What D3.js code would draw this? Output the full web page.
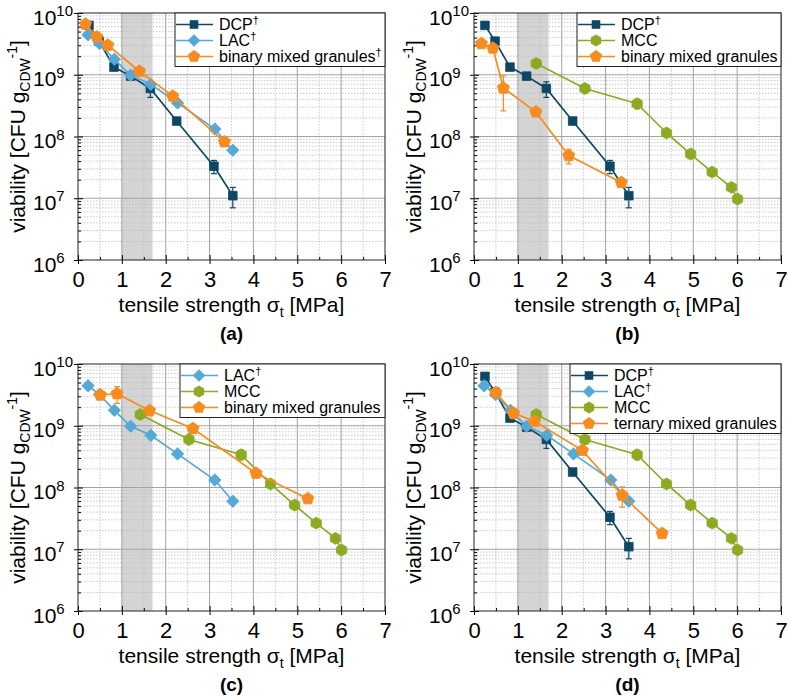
<!DOCTYPE html>
<html>
<head>
<meta charset="utf-8">
<script src="https://cdn.jsdelivr.net/npm/d3@7"></script>
<style>
body { margin: 0; background: #fff; }
svg text { font-family: "Liberation Sans", Arial, sans-serif; }
</style>
</head>
<body>
<svg width="789" height="696"></svg>
<script>
// tensile strength [MPa] / viability [CFU g-1] / error
const dcpX   = [0.25, 0.48, 0.82, 1.2, 1.65, 2.25, 3.1, 3.53];
const dcpY   = [6.3e9, 3.5e9, 1.33e9, 9.5e8, 6.0e8, 1.78e8, 3.3e7, 1.1e7];
const dcpErr = [0, 0, 1.5e8, 0.5e8, 1.7e8, 1.2e7, 0.8e7, 0.4e7];

const lacX   = [0.23, 0.49, 0.83, 1.2, 1.66, 2.27, 3.12, 3.53];
const lacY   = [4.45e9, 3.2e9, 1.78e9, 9.8e8, 7.0e8, 3.5e8, 1.32e8, 6.0e7];
const lacErr = [0, 0, 0, 0, 0, 0, 0, 0];

const mccX   = [1.42, 2.53, 3.72, 4.39, 4.94, 5.43, 5.87, 6.01];
const mccY   = [1.52e9, 6.0e8, 3.4e8, 1.14e8, 5.2e7, 2.65e7, 1.5e7, 9.7e6];
const mccErr = [1e8, 0.9e8, 0.6e8, 1e7, 0.8e7, 0.2e7, 0.15e7, 0];

const binAX   = [0.17, 0.43, 0.68, 1.4, 2.16, 3.34];
const binAY   = [6.6e9, 4.1e9, 3.0e9, 1.14e9, 4.5e8, 8.2e7];
const binAErr = [0, 0, 0, 0, 0, 0];

const binBX   = [0.17, 0.43, 0.67, 1.41, 2.16, 3.36];
const binBY   = [3.2e9, 2.7e9, 6.1e8, 2.5e8, 4.9e7, 1.8e7];
const binBErr = [3e8, 3e8, 3.5e8, 2e7, 1.3e7, 1e6];

const binCX   = [0.51, 0.89, 1.63, 2.62, 4.06, 5.24];
const binCY   = [3.15e9, 3.3e9, 1.76e9, 9.0e8, 1.7e8, 6.6e7];
const binCErr = [2e8, 1e9, 2.5e8, 1.5e8, 2e7, 0.8e7];

const terDX   = [0.5, 0.9, 1.38, 2.47, 3.38, 4.29];
const terDY   = [3.45e9, 1.6e9, 1.18e9, 4.0e8, 7.5e7, 1.8e7];
const terDErr = [2e8, 3e8, 1.5e8, 0.5e8, 2.7e7, 1e6];

const xTicks = [0, 1, 2, 3, 4, 5, 6, 7];
const yTicks = [1e6, 1e7, 1e8, 1e9, 1e10];
const band = [1, 1.7];

const plotWidth = 307, plotHeight = 247;

// marker shapes
const symbolDiamond = {
    draw(ctx, size) {
        const r = Math.sqrt(size / 2);
        ctx.moveTo(0, -r); ctx.lineTo(r, 0); ctx.lineTo(0, r); ctx.lineTo(-r, 0); ctx.closePath();
    }
};
function polygon(n, k) {
    return {
        draw(ctx, size) {
            const r = Math.sqrt(size / k);
            for (let i = 0; i < n; i++) {
                const a = -Math.PI / 2 + i * 2 * Math.PI / n;
                if (i == 0) ctx.moveTo(r * Math.cos(a), r * Math.sin(a));
                else ctx.lineTo(r * Math.cos(a), r * Math.sin(a));
            }
            ctx.closePath();
        }
    };
}
const symbolHexagon = polygon(6, 2.598);
const symbolPentagon = polygon(5, 2.378);

const dcp = {name: "DCP", dag: true, x: dcpX, y: dcpY, err: dcpErr, color: "#0d4764", symbol: d3.symbolSquare, size: 74};
const lac = {name: "LAC", dag: true, x: lacX, y: lacY, err: lacErr, color: "#55a9d6", symbol: symbolDiamond, size: 78};
const mcc = {name: "MCC", dag: false, x: mccX, y: mccY, err: mccErr, color: "#8cab22", symbol: symbolHexagon, size: 92};
const orange = "#f68c1f";
const binA = {name: "binary mixed granules", dag: true, x: binAX, y: binAY, err: binAErr, color: orange, symbol: symbolPentagon, size: 98};
const binB = {name: "binary mixed granules", dag: false, x: binBX, y: binBY, err: binBErr, color: orange, symbol: symbolPentagon, size: 98};
const binC = {name: "binary mixed granules", dag: false, x: binCX, y: binCY, err: binCErr, color: orange, symbol: symbolPentagon, size: 98};
const terD = {name: "ternary mixed granules", dag: false, x: terDX, y: terDY, err: terDErr, color: orange, symbol: symbolPentagon, size: 98};

const panels = [
    {left: 78, top: 13, label: "(a)", legendLeft: 97, series: [dcp, lac, binA]},
    {left: 474, top: 13, label: "(b)", legendLeft: 103, series: [dcp, mcc, binB]},
    {left: 78, top: 364, label: "(c)", legendLeft: 102, series: [lac, mcc, binC]},
    {left: 474, top: 364, label: "(d)", legendLeft: 96, series: [dcp, lac, mcc, terD]}
];

const svg = d3.select("svg");

const x = d3.scaleLinear().domain([0, 7]).range([0, plotWidth]);
const y = d3.scaleLog().domain([1e6, 1e10]).range([plotHeight, 0]);

const xMinor = d3.range(0.5, 7, 1);
const yMinor = [];
yTicks.slice(0, -1).forEach(d => { for (let m = 2; m < 10; m++) yMinor.push(d * m); });

function drawPanel(p) {
    const g = svg.append("g").attr("transform", `translate(${p.left}, ${p.top})`);

    // shaded range
    g.append("rect")
        .attr("x", x(band[0])).attr("y", 0)
        .attr("width", x(band[1]) - x(band[0])).attr("height", plotHeight)
        .attr("fill", "#d4d4d4");

    // minor grid
    g.append("g").selectAll("line").data(yMinor).join("line")
        .attr("x1", 0).attr("x2", plotWidth)
        .attr("y1", d => y(d)).attr("y2", d => y(d))
        .attr("stroke", "#bdbdbd").attr("stroke-width", 0.8).attr("stroke-dasharray", "1.5,1.5");
    g.append("g").selectAll("line").data(xMinor).join("line")
        .attr("x1", d => x(d)).attr("x2", d => x(d))
        .attr("y1", 0).attr("y2", plotHeight)
        .attr("stroke", "#bdbdbd").attr("stroke-width", 0.8).attr("stroke-dasharray", "1.5,1.5");

    // major grid
    g.append("g").selectAll("line").data(yTicks.slice(1, -1)).join("line")
        .attr("x1", 0).attr("x2", plotWidth)
        .attr("y1", d => y(d)).attr("y2", d => y(d))
        .attr("stroke", "#a3a3a3").attr("stroke-width", 1);
    g.append("g").selectAll("line").data(xTicks.slice(1, -1)).join("line")
        .attr("x1", d => x(d)).attr("x2", d => x(d))
        .attr("y1", 0).attr("y2", plotHeight)
        .attr("stroke", "#a3a3a3").attr("stroke-width", 1);

    // X ticks
    const xAxis = g.append("g")
        .attr("transform", `translate(0, ${plotHeight})`)
        .call(d3.axisBottom(x).tickValues(xTicks).tickFormat(d3.format("d"))
            .tickSize(4).tickSizeOuter(0).tickPadding(7))
        .attr("font-size", 22).attr("font-family", null);
    xAxis.select(".domain").remove();
    g.append("g").attr("transform", `translate(0, ${plotHeight})`)
        .call(d3.axisBottom(x).tickValues(xTicks).tickSize(-5).tickSizeOuter(0).tickFormat(""))
        .select(".domain").remove();
    g.append("g").attr("transform", `translate(0, ${plotHeight})`)
        .call(d3.axisBottom(x).tickValues(xMinor).tickSize(-3).tickSizeOuter(0).tickFormat(""))
        .select(".domain").remove();

    // Y ticks
    const yAxis = g.append("g")
        .call(d3.axisLeft(y).tickValues(yTicks).tickSize(4).tickSizeOuter(0))
        .attr("font-size", 21).attr("font-family", null);
    yAxis.select(".domain").remove();
    yAxis.selectAll(".tick text").each(function(d) {
        const t = d3.select(this);
        t.text(null).attr("x", -45).attr("y", 11).attr("dy", null).attr("text-anchor", "start");
        t.append("tspan").text("10");
        t.append("tspan").attr("dy", -8.5).attr("font-size", 15).text(Math.round(Math.log10(d)));
    });
    g.append("g")
        .call(d3.axisLeft(y).tickValues(yTicks).tickSize(-5).tickSizeOuter(0).tickFormat(""))
        .select(".domain").remove();
    g.append("g")
        .call(d3.axisLeft(y).tickValues(yMinor).tickSize(-3).tickSizeOuter(0).tickFormat(""))
        .select(".domain").remove();

    // frame
    g.append("rect")
        .attr("width", plotWidth).attr("height", plotHeight)
        .attr("fill", "none").attr("stroke", "#222").attr("stroke-width", 1);

    // series
    p.series.forEach(s => {
        const idx = d3.range(s.x.length);
        g.append("path").datum(idx)
            .attr("d", d3.line().x(i => x(s.x[i])).y(i => y(s.y[i])))
            .attr("fill", "none").attr("stroke", s.color).attr("stroke-width", 1.7);

        const eb = g.append("g").attr("stroke", s.color).attr("stroke-width", 1.2);
        idx.filter(i => s.err[i] > 0).forEach(i => {
            const cx = x(s.x[i]), y1 = y(s.y[i] + s.err[i]), y2 = y(s.y[i] - s.err[i]);
            eb.append("line").attr("x1", cx).attr("x2", cx).attr("y1", y1).attr("y2", y2);
            eb.append("line").attr("x1", cx - 3).attr("x2", cx + 3).attr("y1", y1).attr("y2", y1);
            eb.append("line").attr("x1", cx - 3).attr("x2", cx + 3).attr("y1", y2).attr("y2", y2);
        });

        g.append("g").selectAll("path").data(idx).join("path")
            .attr("d", d3.symbol().type(s.symbol).size(s.size))
            .attr("transform", i => `translate(${x(s.x[i])}, ${y(s.y[i])})`)
            .attr("fill", s.color).attr("stroke", s.color).attr("stroke-width", 0.8);
    });

    // legend
    const n = p.series.length;
    const lg = g.append("g").attr("transform", `translate(${p.legendLeft}, 0)`);
    lg.append("rect")
        .attr("width", plotWidth - p.legendLeft).attr("height", 11.5 + 16 * (n - 1) + 10)
        .attr("fill", "#fff").attr("stroke", "#222").attr("stroke-width", 1);
    p.series.forEach((s, i) => {
        const ry = 11.5 + 16 * i;
        lg.append("line").attr("x1", 1).attr("x2", 38).attr("y1", ry).attr("y2", ry)
            .attr("stroke", s.color).attr("stroke-width", 1.7);
        lg.append("path").attr("d", d3.symbol().type(s.symbol).size(s.size))
            .attr("transform", `translate(19, ${ry})`).attr("fill", s.color);
        const t = lg.append("text").attr("x", 44).attr("y", ry + 5.5).attr("font-size", 16).text(s.name);
        if (s.dag) t.append("tspan").attr("dy", -6).attr("font-size", 11).text("\u2020");
    });

    // X label
    const xl = g.append("text")
        .attr("x", plotWidth / 2).attr("y", plotHeight + 52)
        .attr("font-size", 21).attr("text-anchor", "middle")
        .text("tensile strength \u03c3");
    xl.append("tspan").attr("dy", 5).attr("font-size", 14).text("t");
    xl.append("tspan").attr("dy", -5).text(" [MPa]");

    // Y label
    const yl = g.append("text")
        .attr("transform", `translate(-53, ${plotHeight / 2}) rotate(-90)`)
        .attr("font-size", 21).attr("text-anchor", "middle")
        .text("viability [CFU g");
    yl.append("tspan").attr("dy", 5).attr("font-size", 14).text("CDW");
    yl.append("tspan").attr("dy", -13).attr("font-size", 14).text("-1");
    yl.append("tspan").attr("dy", 8).text("]");

    // panel label
    g.append("text")
        .attr("x", plotWidth / 2).attr("y", plotHeight + 80)
        .attr("font-size", 19).attr("font-weight", "bold").attr("text-anchor", "middle")
        .text(p.label);
}

panels.forEach(drawPanel);
</script>
</body>
</html>
